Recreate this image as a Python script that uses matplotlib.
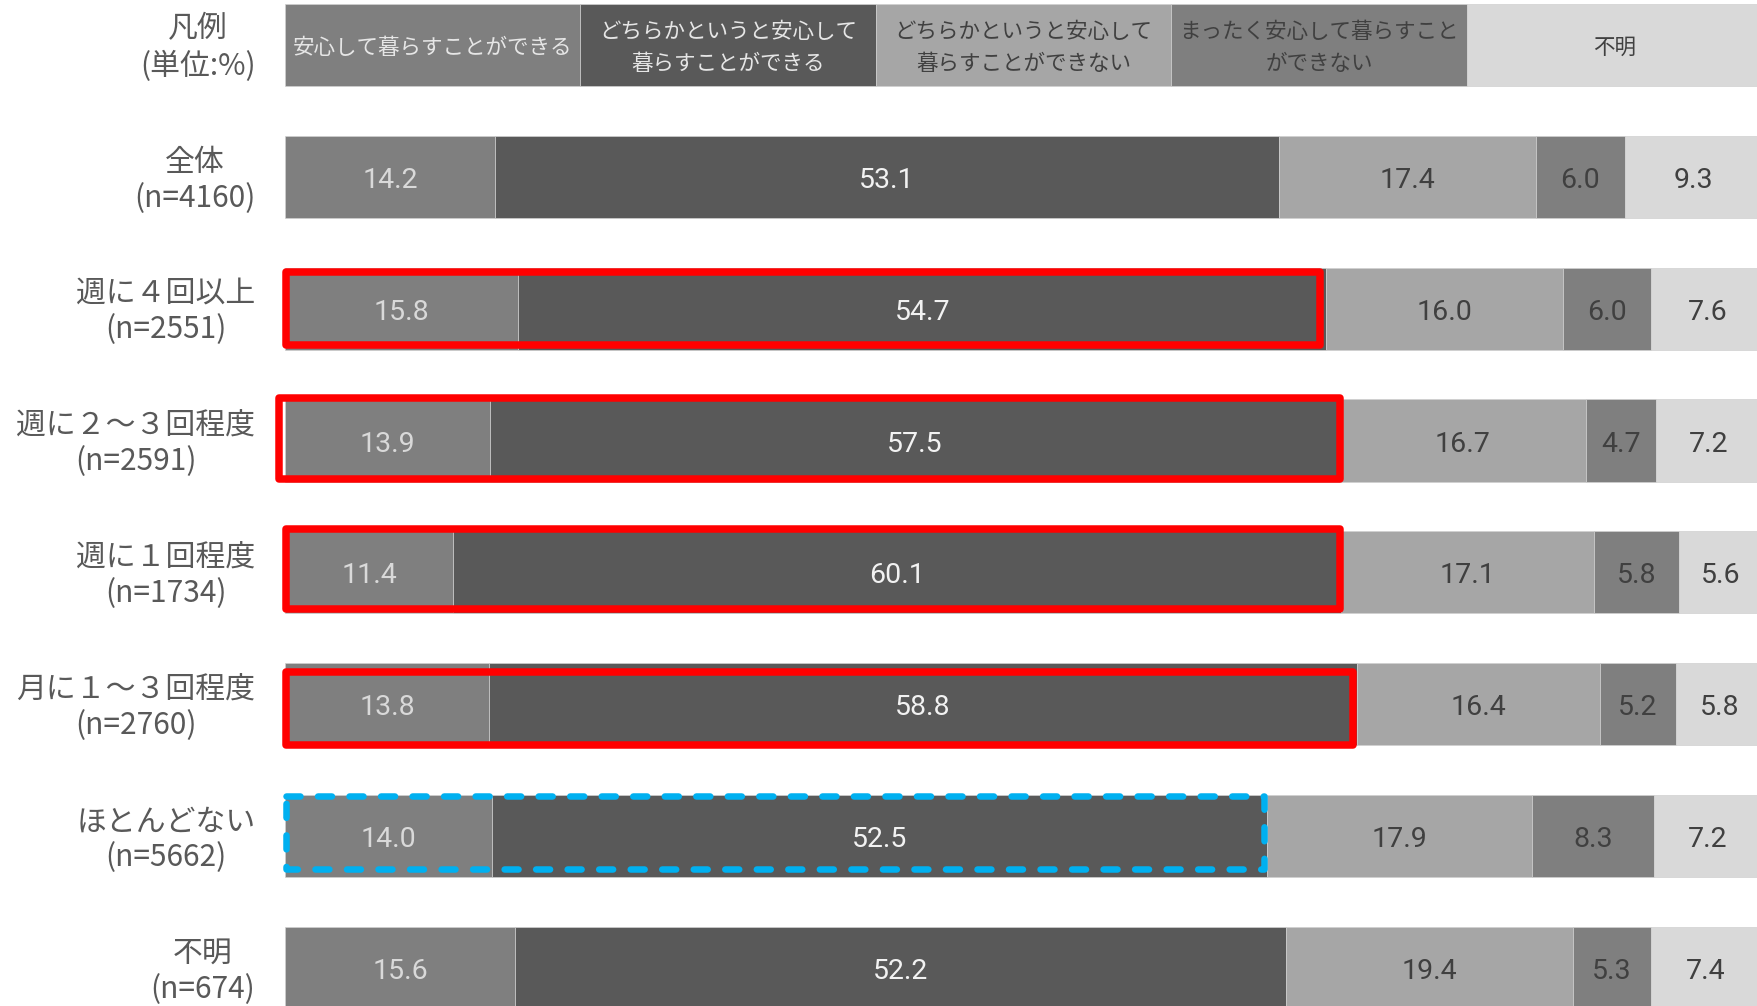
import matplotlib
matplotlib.use("Agg")
import matplotlib.pyplot as plt
from matplotlib.patches import Rectangle

plt.rcParams['font.family'] = ['Noto Sans CJK JP', 'DejaVu Sans']

# ---- data -------------------------------------------------------------
categories = [
    "全体\n(n=4160)",
    "週に４回以上\n(n=2551)",
    "週に２～３回程度\n(n=2591)",
    "週に１回程度\n(n=1734)",
    "月に１～３回程度\n(n=2760)",
    "ほとんどない\n(n=5662)",
    "不明\n(n=674)",
]
series_names = [
    "安心して暮らすことができる",
    "どちらかというと安心して\n暮らすことができる",
    "どちらかというと安心して\n暮らすことができない",
    "まったく安心して暮らすこと\nができない",
    "不明",
]
safe_vals          = [14.2, 15.8, 13.9, 11.4, 13.8, 14.0, 15.6]
rather_safe_vals   = [53.1, 54.7, 57.5, 60.1, 58.8, 52.5, 52.2]
rather_unsafe_vals = [17.4, 16.0, 16.7, 17.1, 16.4, 17.9, 19.4]
unsafe_vals        = [6.0, 6.0, 4.7, 5.8, 5.2, 8.3, 5.3]
unknown_vals       = [9.3, 7.6, 7.2, 5.6, 5.8, 7.2, 7.4]
legend_title = "凡例\n(単位:%)"
legend_share = [20, 20, 20, 20, 20]

series = [safe_vals, rather_safe_vals, rather_unsafe_vals, unsafe_vals, unknown_vals]

# ---- style ------------------------------------------------------------
fills = ["#7f7f7f", "#595959", "#a6a6a6", "#7f7f7f", "#d9d9d9"]
value_colors = ["#d9d9d9", "#f2f2f2", "#404040", "#404040", "#404040"]
legend_text_colors = ["#e6e6e6", "#e6e6e6", "#404040", "#404040", "#404040"]
label_color = "#595959"
bar_h = 0.622

W, H = 1758, 1006
px_per_pct = 14.77
px_per_row = 131.9
x0_px, y0_px = 285.0, 44.8
text_dy = 3.5 / px_per_row   # nudge text down to sit optically centred

fig = plt.figure(figsize=(W / 100, H / 100), dpi=100)
ax = fig.add_axes([0, 0, 1, 1])
ax.set_xlim(-x0_px / px_per_pct, (W - x0_px) / px_per_pct)
ax.set_ylim((H - y0_px) / px_per_row, -y0_px / px_per_row)
ax.axis("off")

# legend row drawn as a stacked bar of equal shares
left = 0.0
for j, (share, name) in enumerate(zip(legend_share, series_names)):
    ax.barh(0, share, left=left, height=bar_h, color=fills[j],
            edgecolor="#d0d0d0", linewidth=0.5)
    ax.text(left + share / 2, 0 + 0.025, name, ha="center", va="center",
            fontsize=15.5, color=legend_text_colors[j], linespacing=1.55)
    left += share
ax.text(-2.0, 0 + 0.02, legend_title, ha="right", va="center", ma="center",
        fontsize=21.5, color=label_color, linespacing=1.3)

# data rows
for i, cat in enumerate(categories):
    y = i + 1
    left = 0.0
    for j, vals in enumerate(series):
        v = vals[i]
        ax.barh(y, v, left=left, height=bar_h, color=fills[j],
                edgecolor="#d0d0d0", linewidth=0.5)
        ax.text(left + v / 2, y + text_dy, f"{v:.1f}", ha="center", va="center",
                fontsize=20.5, family=["Roboto", "DejaVu Sans"],
                color=value_colors[j])
        left += v
    ax.text(-2.0, y + text_dy, cat, ha="right", va="center", ma="center",
            fontsize=21.5, color=label_color, linespacing=1.2)

# highlight frames around the first two segments
# (row index, colour, line width px, dashed, outer pad px: left, right, top, bottom)
frames = [
    (1, "#ff0000", 7.5, False, (2.3, -2.3, -0.3, -0.7)),
    (2, "#ff0000", 7.5, False, (9.7, 4.4, 5.0, 1.3)),
    (3, "#ff0000", 7.5, False, (2.3, 3.0, 6.3, -0.7)),
    (4, "#ff0000", 7.5, False, (2.7, -0.6, -5.3, 3.0)),
    (5, "#00b0f0", 6.5, True, (2.7, 0.5, 2.7, -5.3)),
]
for row, col, lw_px, dashed, (pl, pr, pt, pb) in frames:
    y = row + 1
    end = safe_vals[row] + rather_safe_vals[row]
    half = lw_px / 2
    xl = (-pl + half) / px_per_pct
    xr = end + (pr - half) / px_per_pct
    yt = y - bar_h / 2 + (-pt + half) / px_per_row
    yb = y + bar_h / 2 + (pb - half) / px_per_row
    lw_pt = lw_px * 72 / 100
    kw = dict(fill=False, edgecolor=col, linewidth=lw_pt, joinstyle="round",
              capstyle="round", zorder=5)
    if dashed:
        kw["linestyle"] = (0, (2.15, 2.7))
    ax.add_patch(Rectangle((xl, yt), xr - xl, yb - yt, **kw))

fig.savefig("out.png", dpi=100, facecolor="white")
